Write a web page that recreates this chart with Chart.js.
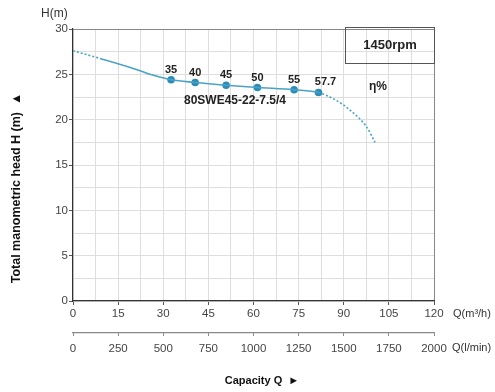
<!DOCTYPE html>
<html>
<head>
<meta charset="utf-8">
<script src="https://cdn.jsdelivr.net/npm/chart.js@4"></script>
<style>
  html, body { margin: 0; padding: 0; background: #fff; }
  #wrap { width: 495px; height: 392px; }
</style>
</head>
<body>
<div id="wrap"><canvas id="pumpChart" width="495" height="392"></canvas></div>
<script>
// Courbe H(Q)
const qCurve = [0, 9, 20, 25.6, 32.6, 40.6, 50.9, 61.3, 73.5, 81.6, 87.1, 92.1, 97.6, 100.4];
const hCurve = [27.6, 26.75, 25.65, 25.0, 24.4, 24.1, 23.8, 23.55, 23.3, 23.0, 22.2, 21.05, 19.2, 17.5];

// Points de rendement
const qEff = [32.6, 40.6, 50.9, 61.3, 73.5, 81.6];
const hEff = [24.4, 24.1, 23.8, 23.55, 23.3, 23.0];
const effLabels = ['35', '40', '45', '50', '55', '57.7'];

const modelName = '80SWE45-22-7.5/4';
const speedLabel = '1450rpm';

const FONT = "'Liberation Sans', Arial, Helvetica, sans-serif";
const LINE = '#4aa3c4';
const DOT = '#2b8db7';

const textPlugin = {
    id: 'texts',
    afterDraw(chart) {
        const c = chart.ctx;
        c.save();
        c.fillStyle = '#222';
        c.textBaseline = 'middle';

        // labels de rendement
        c.font = 'bold 11px ' + FONT;
        c.textAlign = 'center';
        const pts = chart.getDatasetMeta(1).data;
        pts.forEach((p, i) => {
            const dx = (i === pts.length - 1) ? 7 : 0;
            c.fillText(effLabels[i], p.x + dx, p.y - 10);
        });

        // nom du modele
        c.font = 'bold 12px ' + FONT;
        c.fillText(modelName, 235, 101);

        // boite vitesse
        c.strokeStyle = '#555';
        c.lineWidth = 1;
        c.strokeRect(345.5, 27.5, 89, 36);
        c.font = 'bold 13px ' + FONT;
        c.fillText(speedLabel, 390, 45);

        c.font = 'bold 12px ' + FONT;
        c.fillText('η%', 378, 87);

        // titres d'axes
        c.fillStyle = '#333';
        c.font = '12px ' + FONT;
        c.textAlign = 'left';
        c.fillText('H(m)', 41, 14);
        c.font = '11px ' + FONT;
        c.fillText('Q(m³/h)', 453, 314);
        c.fillText('Q(l/min)', 452, 348);

        c.fillStyle = '#111';
        c.font = 'bold 11px ' + FONT;
        c.textAlign = 'center';
        c.fillText('Capacity Q  ►', 262, 381);

        c.font = 'bold 12.5px ' + FONT;
        c.translate(17, 188);
        c.rotate(-Math.PI / 2);
        c.fillText('Total manometric head H (m)  ▲', 0, 0);
        c.restore();
    }
};

new Chart(document.getElementById('pumpChart'), {
    type: 'scatter',
    data: {
        datasets: [
            {
                data: qCurve.map((q, i) => ({ x: q, y: hCurve[i] })),
                showLine: true,
                borderColor: LINE,
                borderWidth: 1.6,
                pointRadius: 0,
                cubicInterpolationMode: 'monotone',
                segment: {
                    borderDash: ctx => (ctx.p0.parsed.x < 9 || ctx.p0.parsed.x >= 81.6) ? [2, 2] : undefined
                }
            },
            {
                data: qEff.map((q, i) => ({ x: q, y: hEff[i] })),
                showLine: false,
                pointRadius: 3.8,
                pointBackgroundColor: DOT,
                pointBorderColor: DOT,
                pointBorderWidth: 0
            }
        ]
    },
    options: {
        responsive: false,
        animation: false,
        layout: { padding: { left: 0, right: 61, top: 29, bottom: 0 } },
        plugins: { legend: { display: false }, tooltip: { enabled: false } },
        scales: {
            x: {
                type: 'linear',
                position: 'bottom',
                min: 0, max: 120,
                afterFit: s => { s.height = 32; },
                border: { color: '#333', width: 1.2 },
                grid: {
                    color: ctx => ctx.tick && ctx.tick.value === 120 ? '#888' : '#dedede',
                    tickLength: 4,
                    tickColor: ctx => ctx.tick && ctx.tick.value % 15 === 0 ? '#555' : 'transparent'
                },
                ticks: {
                    stepSize: 7.5,
                    padding: 2,
                    color: '#444',
                    font: { family: FONT, size: 11.5 },
                    maxRotation: 0,
                    autoSkip: false,
                    callback: v => v % 15 === 0 ? String(v) : ''
                }
            },
            x2: {
                type: 'linear',
                position: 'bottom',
                min: 0, max: 2000,
                afterFit: s => { s.height = 59; },
                border: { color: '#888', width: 1.2 },
                grid: { drawOnChartArea: false, tickLength: 3, color: '#888' },
                ticks: {
                    stepSize: 250,
                    padding: 6,
                    color: '#444',
                    font: { family: FONT, size: 11.5 },
                    maxRotation: 0,
                    autoSkip: false,
                    callback: v => String(v)
                }
            },
            y: {
                min: 0, max: 30,
                afterFit: s => { s.width = 73; },
                border: { color: '#333', width: 1.2 },
                grid: {
                    color: ctx => ctx.tick && ctx.tick.value === 30 ? '#888' : '#dedede',
                    tickLength: 4,
                    tickColor: ctx => ctx.tick && ctx.tick.value % 5 === 0 ? '#555' : 'transparent'
                },
                ticks: {
                    stepSize: 2.5,
                    padding: 1,
                    color: '#444',
                    font: { family: FONT, size: 11.5 },
                    callback: v => v % 5 === 0 ? String(v) : ''
                }
            }
        }
    },
    plugins: [textPlugin]
});
</script>
</body>
</html>
